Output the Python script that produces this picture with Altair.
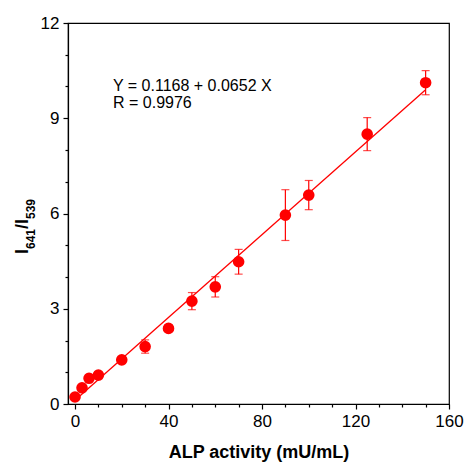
import altair as alt
import pandas as pd

# ---- data ----
activity = [0, 3, 6, 10, 20, 30, 40, 50, 60, 70, 90, 100, 125, 150]
ratio = [0.22, 0.51, 0.81, 0.91, 1.39, 1.81, 2.38, 3.24, 3.69, 4.48, 5.95, 6.58, 8.50, 10.12]
err = [0.05, 0.05, 0.06, 0.08, 0.08, 0.21, 0.10, 0.27, 0.32, 0.39, 0.80, 0.46, 0.52, 0.38]

intercept = 0.1168
slope = 0.0652
fit_x = [0, 150]

x_ticks = list(range(0, 161, 10))
y_ticks = list(range(0, 13, 1))

df = pd.DataFrame({"x": activity, "y": ratio, "err": err})
df["lo"] = df["y"] - df["err"]
df["hi"] = df["y"] + df["err"]
fit = pd.DataFrame({"x": fit_x, "y": [intercept + slope * v for v in fit_x]})

RED = "#FF0000"
FONT = "Liberation Sans"

xscale = alt.Scale(domain=[-3, 160], nice=False, zero=False)
yscale = alt.Scale(domain=[0, 12], nice=False)

xaxis = alt.Axis(
    values=x_ticks,
    labelExpr="datum.value % 40 === 0 ? datum.label : ''",
    tickSize={"condition": {"test": "datum.value % 40 === 0", "value": 5}, "value": 3},
    title="ALP activity (mU/mL)",
    titleFontWeight="bold",
    titleFontSize=18,
    titlePadding=14,
    labelFontSize=17,
    labelPadding=4,
    labelFlush=False,
    labelOverlap=False,
    grid=False,
)
yaxis = alt.Axis(
    values=y_ticks,
    labelExpr="datum.value % 3 === 0 ? datum.label : ''",
    tickSize={"condition": {"test": "datum.value % 3 === 0", "value": 5}, "value": 3},
    title=None,
    labelFontSize=17,
    labelPadding=4,
    labelFlush=False,
    labelOverlap=False,
    grid=False,
)

X = alt.X("x:Q", scale=xscale, axis=xaxis)
Y = alt.Y("y:Q", scale=yscale, axis=yaxis)

line = alt.Chart(fit).mark_line(color=RED, strokeWidth=1.3).encode(x=X, y=Y)

bars = alt.Chart(df).mark_rule(color=RED, strokeWidth=1.2).encode(
    x=X, y=alt.Y("lo:Q", scale=yscale, axis=yaxis), y2="hi:Q"
)
cap_hi = alt.Chart(df).mark_tick(color=RED, orient="horizontal", size=8, thickness=1.2).encode(
    x=X, y=alt.Y("hi:Q", scale=yscale, axis=yaxis)
)
cap_lo = alt.Chart(df).mark_tick(color=RED, orient="horizontal", size=8, thickness=1.2).encode(
    x=X, y=alt.Y("lo:Q", scale=yscale, axis=yaxis)
)
points = alt.Chart(df).mark_circle(color=RED, size=135, opacity=1).encode(x=X, y=Y)

ann_lines = ["Y = 0.1168 + 0.0652 X", "R = 0.9976"]
ann = alt.Chart(pd.DataFrame({"t": [ann_lines[0]]})).mark_text(
    align="left", baseline="alphabetic", fontSize=16, font=FONT, color="black"
).encode(text="t:N", x=alt.value(45), y=alt.value(68))
ann2 = alt.Chart(pd.DataFrame({"t": [ann_lines[1]]})).mark_text(
    align="left", baseline="alphabetic", fontSize=16, font=FONT, color="black"
).encode(text="t:N", x=alt.value(45), y=alt.value(84.5))

# y axis title I641/I539 built from pieces (rotated)
title_parts = ["I", "641", "/", "I", "539"]
title_sizes = [18, 12, 18, 18, 12]
title_x = [-40, -33, -40, -40, -33]
title_y = [231, 226, 206, 201, 196]
ytitle_layers = []
for t, s, xx, yy in zip(title_parts, title_sizes, title_x, title_y):
    ytitle_layers.append(
        alt.Chart(pd.DataFrame({"t": [t]})).mark_text(
            align="left", baseline="alphabetic", angle=270, fontSize=s,
            fontWeight="bold", font=FONT, color="black"
        ).encode(text="t:N", x=alt.value(xx), y=alt.value(yy))
    )

chart = alt.layer(line, bars, cap_hi, cap_lo, points, ann, ann2, *ytitle_layers).properties(
    width=381, height=381,
    autosize=alt.AutoSizeParams(type="none"),
    padding={"left": 68, "top": 23, "right": 16, "bottom": 60},
).configure(font=FONT).configure_view(
    stroke="black", strokeWidth=1.2
).configure_axis(
    domainColor="black", domainWidth=1.2, tickColor="black", tickWidth=1.2,
    labelColor="black", titleColor="black", labelFont=FONT, titleFont=FONT,
)

chart.save("out.html", embed_options={"renderer": "svg", "actions": False})
